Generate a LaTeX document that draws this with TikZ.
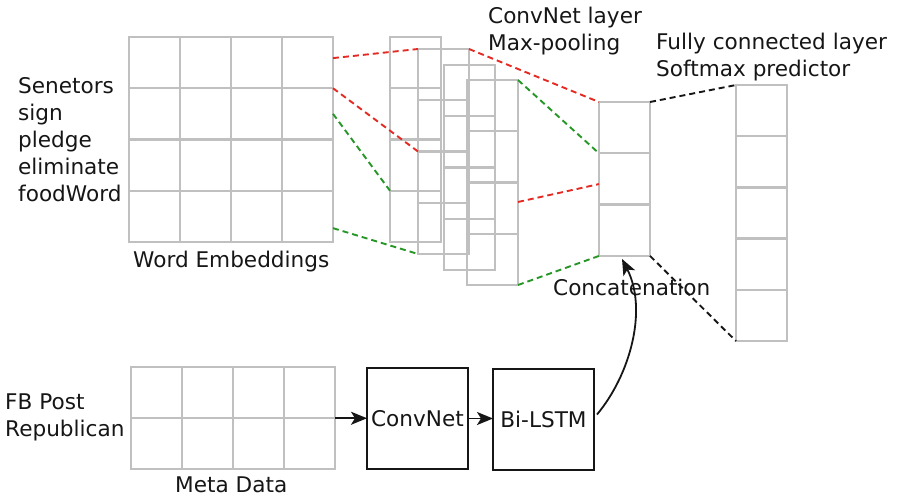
\documentclass[tikz,border=0pt]{standalone}
\usepackage{fontspec}
\setmainfont{DejaVu Sans}
\usetikzlibrary{arrows.meta,calc}
\definecolor{gridgray}{RGB}{192,192,192}
\definecolor{linkred}{RGB}{228,42,34}
\definecolor{linkgreen}{RGB}{38,150,38}
\definecolor{ink}{RGB}{22,22,22}
\begin{document}
\begin{tikzpicture}[x=1pt,y=-1pt,
  cell/.style={draw=gridgray,line width=2.3pt,minimum width=51pt,minimum height=51.25pt,
    inner sep=0pt,outer sep=0pt},
  box/.style={draw=ink,line width=1.8pt,minimum width=101pt,minimum height=101pt,
    inner sep=0pt,outer sep=0pt,text=ink,font=\fontsize{21.6}{27}\selectfont},
  label/.style={anchor=base west,inner sep=0pt,text=ink,align=left,
    font=\fontsize{21.6}{27}\selectfont},
  link/.style={line width=1.9pt,dash pattern=on 6pt off 4pt},
  redlink/.style={link,draw=linkred},
  greenlink/.style={link,draw=linkgreen},
  blacklink/.style={link,draw=ink},
  arr/.style={draw=ink,line width=1.8pt,-{Stealth[length=16pt,width=13pt,inset=4pt]}}]
\useasboundingbox (0,0) rectangle (898,498);

% word embedding matrix (4 x 4)
\foreach \r in {0,...,3}
  \foreach \c in {0,...,3}
    \node[cell] (w\r\c) at ({154.5+51*\c},{62.6+51.25*\r}) {};

% stacked convolution feature maps
\foreach \k/\x/\y in {1/390/37, 2/418/49, 3/444/65, 4/467/80}
  \foreach \r in {1,...,4}
    \node[cell,anchor=north west] (c\k\r) at (\x,{\y+51.25*(\r-1)}) {};

% concatenation vector
\foreach \r in {1,2,3}
  \node[cell,anchor=north west] (k\r) at (599,{102+51.33*(\r-1)}) {};

% fully connected output
\foreach \r in {1,...,5}
  \node[cell,anchor=north west] (f\r) at (736,{85+51.2*(\r-1)}) {};

% meta data matrix (2 x 4)
\foreach \r in {1,2}
  \foreach \c in {1,...,4}
    \node[cell,anchor=north west] (m\r\c) at ({131+51*(\c-1)},{367+51*(\r-1)}) {};

% meta data branch
\node[box] (cn) at (417.5,418.5) {ConvNet};
\node[box] (bl) at (543.5,419.5) {Bi-LSTM};

% filter windows
\draw[redlink] ([yshift=4.5pt]w03.east) -- (c21.north west);
\draw[redlink] (c21.north east) -- (k1.north west);
\draw[redlink] (w03.south east) -- (c23.north west);
\draw[redlink] ($(c43.north east)!0.38!(c43.south east)$) -- ($(k2.north west)!0.6!(k2.south west)$);
\draw[greenlink] (w13.east) -- (c14.north west);
\draw[greenlink] ($(w33.north east)!0.73!(w33.south east)$) -- (c24.south west);
\draw[greenlink] (c41.north east) -- (k2.north west);
\draw[greenlink] (c44.south east) -- (k3.south west);
\draw[blacklink] (k1.north east) -- (f1.north west);
\draw[blacklink] (k3.south east) -- (f5.south west);

% arrows
\draw[arr] (m14.south east) -- (m14.south east -| cn.west);
\draw[arr] (cn.east) -- (cn.east -| bl.west);
\draw[arr] ([xshift=3pt,yshift=5pt]bl.east) .. controls (630,375) and (648,310) .. ([xshift=-2.5pt,yshift=-3pt]k3.south);

% labels (anchored at the baseline of the last line)
\node[label] (words) at (18,201) {Senetors\\sign\\pledge\\eliminate\\foodWord};
\node[label] (we) at (133,267) {Word Embeddings};
\node[label] (conv) at (488,50) {ConvNet layer\\Max-pooling};
\node[label] (fc) at (656,76) {Fully connected layer\\Softmax predictor};
\node[label] (cat) at (553,295) {Concatenation};
\node[label] (post) at (5,436) {FB Post\\Republican};
\node[label] (meta) at (175,492) {Meta Data};
\end{tikzpicture}
\end{document}
